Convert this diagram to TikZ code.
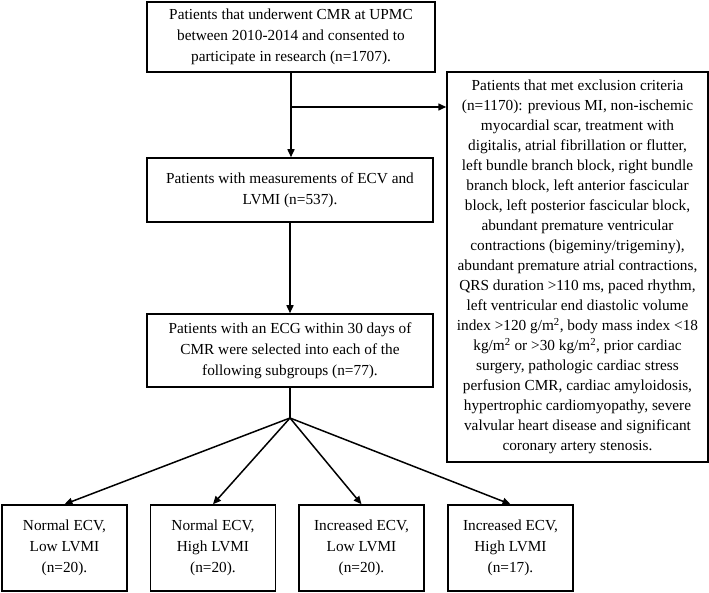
\documentclass[tikz,border=0pt]{standalone}
\usepackage{fontspec}
\setmainfont{Liberation Serif}
\usetikzlibrary{arrows.meta}
\begin{document}
\begin{tikzpicture}[x=1pt,y=-1pt,
  box/.style={draw=black, line width=1.5pt, align=center, inner sep=0pt,
    font=\fontsize{15.3}{21}\selectfont},
  subbox/.style={box, minimum width=125pt, minimum height=86pt},
  conn/.style={line width=1.5pt},
  arr/.style={conn, -{Triangle[length=8pt,width=7pt]}}]
\useasboundingbox (0,0) rectangle (709,593);
\node[box, minimum width=288pt, minimum height=70pt] (b1) at (291,37)
  {Patients that underwent CMR at UPMC\\between 2010-2014 and consented to\\participate in research (n=1707).};
\node[box, minimum width=286pt, minimum height=64pt] (b2) at (290,190)
  {Patients with measurements of ECV and\\LVMI (n=537).};
\node[box, minimum width=286pt, minimum height=73pt] (b3) at (290,350.5)
  {Patients with an ECG within 30 days of\\CMR were selected into each of the\\following subgroups (n=77).};
\node[box, font=\fontsize{15.3}{20}\selectfont, minimum width=261pt, minimum height=390pt] (ex) at (577.5,267)
  {Patients that met exclusion criteria\\
   (n=1170): previous MI, non-ischemic\\
   myocardial scar, treatment with\\
   digitalis, atrial fibrillation or flutter,\\
   left bundle branch block, right bundle\\
   branch block, left anterior fascicular\\
   block, left posterior fascicular block,\\
   abundant premature ventricular\\
   contractions (bigeminy/trigeminy),\\
   abundant premature atrial contractions,\\
   QRS duration >110 ms, paced rhythm,\\
   left ventricular end diastolic volume\\
   index >120 g/m\textsuperscript{2}, body mass index <18\\
   kg/m\textsuperscript{2} or >30 kg/m\textsuperscript{2}, prior cardiac\\
   surgery, pathologic cardiac stress\\
   perfusion CMR, cardiac amyloidosis,\\
   hypertrophic cardiomyopathy, severe\\
   valvular heart disease and significant\\
   coronary artery stenosis.};
\node[subbox] (s1) at (64.5,548) {Normal ECV,\\Low LVMI\\(n=20).};
\node[subbox] (s2) at (213,548) {Normal ECV,\\High LVMI\\(n=20).};
\node[subbox] (s3) at (361.5,548) {Increased ECV,\\Low LVMI\\(n=20).};
\node[subbox] (s4) at (510.5,548) {Increased ECV,\\High LVMI\\(n=17).};
\coordinate (j1) at (291,107);
\coordinate (j2) at (290,418);
\draw[arr] (b1.south -| j1) -- (b2.north -| j1);
\draw[arr] (j1) -- (ex.west |- j1);
\draw[arr] (b2.south) -- (b3.north);
\draw[conn] (b3.south) -- (j2);
\draw[arr] (j2) -- (s1.north);
\draw[arr] (j2) -- (s2.north);
\draw[arr] (j2) -- (s3.north);
\draw[arr] (j2) -- (s4.north);
\end{tikzpicture}
\end{document}
